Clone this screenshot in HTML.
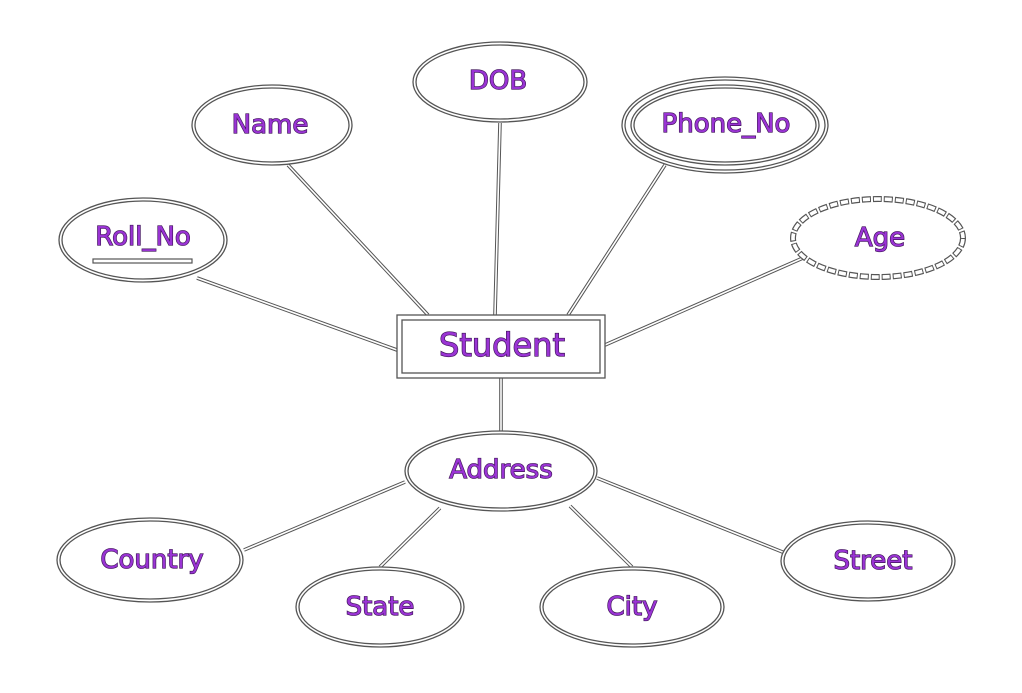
<!DOCTYPE html>
<html><head><style>
html,body{margin:0;padding:0;background:#fff;width:1022px;height:693px;overflow:hidden}
svg{display:block}
.o{fill:none;stroke:#555;stroke-width:3.6}
.i{fill:none;stroke:#fff;stroke-width:1.6}
.s{fill:#fff;stroke:#555;stroke-width:1.3}
text{font-family:"DejaVu Sans","Liberation Sans",sans-serif;font-size:26px;fill:#9a34d4;stroke:#3e1458;stroke-width:1.3;paint-order:stroke;text-anchor:middle;dominant-baseline:central}
</style></head><body>
<svg width="1022" height="693" viewBox="0 0 1022 693">
<g>
<path class="o" d="M288 165L428 315M500 123L495 315M665 165L568 315M197 278L397 350M803 258L605 345M501 378L501 432M405 482L244 550M440 508L380 567M570 506L632 567M597 478L785 553"/>
<path class="i" d="M288 165L428 315M500 123L495 315M665 165L568 315M197 278L397 350M803 258L605 345M501 378L501 432M405 482L244 550M440 508L380 567M570 506L632 567M597 478L785 553"/>
</g>
<ellipse class="s" cx="272" cy="125" rx="80" ry="40"/><ellipse class="s" cx="272" cy="125" rx="77" ry="37"/>
<ellipse class="s" cx="500" cy="82" rx="87" ry="40"/><ellipse class="s" cx="500" cy="82" rx="84" ry="37"/>
<ellipse class="s" cx="725" cy="125" rx="103" ry="48"/><ellipse class="s" cx="725" cy="125" rx="100" ry="45"/>
<ellipse class="s" cx="725" cy="125" rx="94" ry="40"/><ellipse class="s" cx="725" cy="125" rx="91" ry="37"/>
<ellipse class="s" cx="143" cy="240" rx="84" ry="42"/><ellipse class="s" cx="143" cy="240" rx="81" ry="39"/>
<ellipse cx="878" cy="238" rx="85" ry="39" fill="#fff" stroke="#555" stroke-width="6" stroke-dasharray="9 2"/>
<ellipse cx="878" cy="238" rx="85" ry="39" fill="none" stroke="#fff" stroke-width="3.6" stroke-dasharray="7 4" stroke-dashoffset="-1"/>
<rect class="s" x="397" y="315" width="208" height="63"/><rect class="s" x="402" y="320" width="198" height="53"/>
<ellipse class="s" cx="501" cy="471" rx="96" ry="40"/><ellipse class="s" cx="501" cy="471" rx="93" ry="37"/>
<ellipse class="s" cx="150" cy="560" rx="93" ry="42"/><ellipse class="s" cx="150" cy="560" rx="90" ry="39"/>
<ellipse class="s" cx="380" cy="607" rx="84" ry="40"/><ellipse class="s" cx="380" cy="607" rx="81" ry="37"/>
<ellipse class="s" cx="632" cy="607" rx="92" ry="40"/><ellipse class="s" cx="632" cy="607" rx="89" ry="37"/>
<ellipse class="s" cx="868" cy="561" rx="87" ry="40"/><ellipse class="s" cx="868" cy="561" rx="84" ry="37"/>
<rect x="93" y="259" width="99" height="4" fill="#fff" stroke="#555" stroke-width="1.2"/>
<text x="270" y="125">Name</text>
<text x="498" y="81">DOB</text>
<text x="726" y="124">Phone_No</text>
<text x="143" y="237">Roll_No</text>
<text x="880" y="238">Age</text>
<text x="502" y="345" style="font-size:32px">Student</text>
<text x="501" y="470">Address</text>
<text x="152" y="560">Country</text>
<text x="380" y="607">State</text>
<text x="632" y="607">City</text>
<text x="873" y="561">Street</text>
</svg>
</body></html>
